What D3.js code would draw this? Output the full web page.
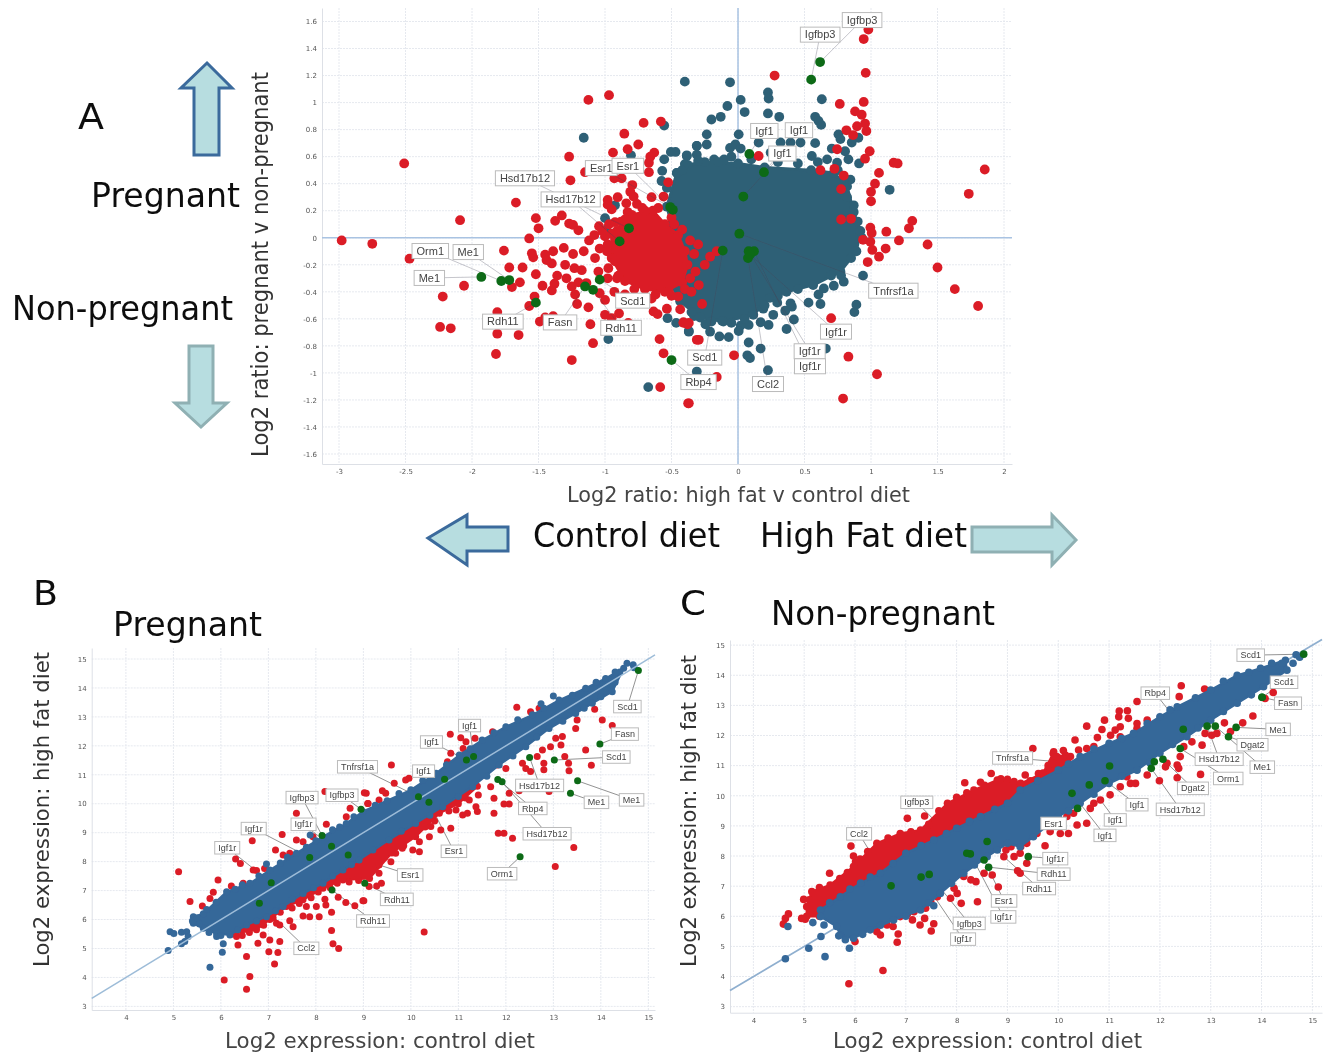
<!DOCTYPE html>
<html>
<head>
<meta charset="utf-8">
<script src="https://cdnjs.cloudflare.com/ajax/libs/d3/7.8.5/d3.min.js"></script>
<style>
html,body{margin:0;padding:0;background:#fff;}
svg{display:block;}
text{font-family:"DejaVu Sans",sans-serif;}
</style>
</head>
<body>
<svg id="fig" width="1323" height="1054"></svg>
<script>
// values. The middle of each cloud is too dense to read
// single points, so it is kept as an outline (xxxCore) and only the points that
// can be told apart are listed.

// ---- panel A: log2 ratio high fat v control (x), pregnant v non-pregnant (y)
const aTicksX = [-3,-2.5,-2,-1.5,-1,-0.5,0,0.5,1,1.5,2];
const aTicksY = [-1.6,-1.4,-1.2,-1,-0.8,-0.6,-0.4,-0.2,0,0.2,0.4,0.6,0.8,1,1.2,1.4,1.6];
const aTealCore = [[-.46,.48],[-.38,.54],[-.25,.56],[0,.55],[.2,.52],[.55,.5],[.72,.48],[.82,.38],[.87,.19],[.92,.05],[.89,-.1],[.77,-.25],[.565,-.35],[.365,-.4],[.24,-.445],[.115,-.57],[-.11,-.62],[-.285,-.59],[-.435,-.47],[-.5,-.35],[-.45,-.1],[-.5,.1],[-.535,.23]];
const aRedCore = [[-.95,.03],[-.8,.17],[-.64,.2],[-.55,.1],[-.45,.02],[-.4,-.1],[-.38,-.2],[-.42,-.33],[-.55,-.4],[-.7,-.38],[-.85,-.32],[-.95,-.15]];
const aTeal = [[-.4,1.155],[-.06,1.15],[.225,1.075],[.23,1.03],[.63,1.025],[.02,1.02],[-.08,.975],[.05,.93],[-.13,.895],[-.2,.875],[.225,.92],[.31,.895],[.58,.895],[.605,.865],[.625,.835],[-.235,.765],[.005,.765],[.755,.765],[.77,.73],[.905,.74],[.855,.705],[-.31,.68],[-.235,.69],[-.06,.665],[-.02,.69],[.02,.66],[.58,.7],[.555,.605],[.705,.66],[.805,.64],[.83,.58],[.91,.55],[1.14,.355],[.805,.31],[.87,.24],[.845,.43],[-.385,.605],[-.31,.615],[-.18,.58],[-.105,.58],[.245,.63],[.155,.705],[.32,.705],[.395,.705],[.47,.705],[.67,.58],[.745,.555],[-1.16,.74],[-.555,.83],[-.805,.61],[-.505,.635],[-.47,.635],[-.385,.61],[-.31,.68],[-.555,.58],[-.57,.495],[-.575,.42],[-.535,.37],[-.46,.48],[-.925,.24],[-1,.145],[-.99,.06],[-.4,.545],
  [.94,-.28],[.795,-.325],[.775,-.28],[.72,-.355],[.645,-.375],[.605,-.42],[.53,-.48],[.62,-.49],[.395,-.485],[.405,-.51],[.355,-.54],[.295,-.48],[.42,-.605],[.365,-.675],[.89,-.495],[.875,-.55],[.19,-.525],[.265,-.57],[.23,-.645],[.17,-.625],[.08,-.645],[.02,-.65],[.005,-.69],[.08,-.775],[.17,-.82],[.07,-.87],[.09,-.89],[.225,-.98],[.66,-.82],[-.07,-.735],[-.14,-.73],[-.21,-.695],[-.245,-.64],[-.33,-.58],[-.12,-.615],[-.31,-.99],[-.37,-.695],[-.53,-.595],[-.465,-.63],[-.37,-.69],[-.675,-1.105],[-.975,-.75],
  [-.42,.5],[-.3,.57],[-.15,.56],[-.05,.6],[.1,.58],[.3,.56],[.45,.55],[.6,.56],[.75,.5],[.8,.44],[.9,.12],[.93,0],[.85,-.15],[.7,-.28],[.45,-.38],[.3,-.43],[.2,-.5],[.05,-.6],[-.05,-.63],[-.2,-.62],[-.35,-.55],[.82,.3]];
const aRed = [[-2.98,-.02],[-2.75,-.045],[-2.51,.55],[-2.09,.13],[-1.67,.26],[-1.52,.145],[-1.5,.07],[-1.57,-.005],[-1.125,1.02],[-.97,1.055],[-.71,.85],[-.58,.86],[-.855,.77],[-.75,.69],[-.83,.655],[-.94,.63],[-1.27,.6],[-.63,.63],[-.66,.6],[-.67,.555],[-.67,.485],[-1.26,.425],[-1.15,.485],[-.93,.44],[-.875,.44],[-.795,.39],[-.81,.34],[-.785,.305],[-.76,.25],[-.65,.3],[-.56,.305],[-.905,.3],[-.98,.28],[-.98,.245],[-.84,.255],[-.83,.19],[-.95,.21],[-1.325,.165],[-1.375,.125],[-1.27,.105],[-1.24,.095],[-1.2,.055],[-1.045,.085],[-.925,.115],[-.91,.05],[-.85,.135],[-.79,.15],[-.525,.41],
  [-2.47,-.155],[-2.06,-.355],[-2.22,-.435],[-2.24,-.66],[-2.16,-.67],[-1.81,-.55],[-1.81,-.71],[-1.65,-.72],[-1.82,-.86],[-1.25,-.905],[-1.09,-.78],[-1.11,-.64],[-1.125,-.515],[-1.21,-.49],[-1.49,-.62],[-1.45,-.59],[-1.39,-.58],[-1.57,-.505],[-1.53,-.435],[-1.64,-.33],[-1.7,-.365],[-1.72,-.22],[-1.62,-.22],[-1.76,-.095],[-1.55,-.115],[-1.54,-.145],[-1.52,-.27],[-1.47,-.355],[-1.4,-.39],[-1.38,-.34],[-1.36,-.28],[-1.45,-.125],[-1.44,-.165],[-1.39,-.1],[-1.4,-.19],[-1.31,-.075],[-1.24,-.12],[-1.16,-.1],[-1.3,-.2],[-1.23,-.225],[-1.175,-.24],[-1.29,-.3],[-1.2,-.33],[-1.25,-.36],[-1.225,-.42],[-1.14,-.335],[-1.04,-.41],[-1,-.46],[-1.05,-.25],[-1.075,-.15],[-1.04,-.08],[-.975,-.225],[-.925,-.175],[-.91,-.3],[-1,-.57],[-.95,-.595],[-.895,-.56],[-.825,-.63],[-.59,-.75],[-.56,-.855],[-.585,-1.105],[-.375,-1.225],[-.31,-.755],[-.635,-.545],[-.605,-.565],[-.535,-.525],[-.45,-.435],[-.435,-.53],[-.37,-.63],[-.41,-.625],
  [-1.12,-.02],[-1.08,.02],[-1,.01],[-.985,-.1],[-.98,-.3],[-.93,-.4],[-.85,-.42],[-.75,-.45],[-.65,-.45],[-.5,-.43],[-.36,-.3],[-.33,-.12],[-.36,-.02],[-.42,.06],[-.48,.1],[-.7,.2],
  [-.98,-.05],[-1.02,.05],[-.97,.1],[-.88,.12],[-.72,.22],[-.6,.22],[-.5,.15],[-.9,-.28],[-.78,-.38],[-.62,-.42],[-.52,-.4],[-.4,-.38],[-.32,-.25],[-.3,-.05],[-.25,-.2],[-.35,-.4],
  [-.295,-.35],[-.27,-.49],[-.38,-.64],[-.41,-.63],[-.295,-.755],[-.03,-.87],[-.16,-1.03],[-.37,-1.225],[.7,-.595],[.83,-.88],[1.045,-1.01],[.79,-1.19],[1.805,-.505],[1.63,-.38],[1.5,-.22],[1.425,-.05],[1.21,-.02],[1.11,-.08],[1.06,-.14],[.975,-.18],[1.01,-.09],[.995,-.03],[.94,-.015],[-.21,-.14],[-.16,-.1],
  [.98,1.54],[.945,1.47],[.96,1.22],[.275,1.2],[.945,1.005],[.765,.99],[.88,.935],[.93,.91],[.955,.845],[.895,.825],[.965,.79],[.815,.795],[.865,.76],[.99,.64],[.955,.585],[1.17,.555],[1.2,.55],[1.06,.48],[1.03,.4],[1,.34],[1,.27],[1.855,.505],[1.735,.325],[1.31,.125],[1.285,.07],[1.115,.045],[.995,.075],[1.005,.035],[.775,.36],[.775,.135],[.85,.14],[.155,.605],[.795,.46],[.725,.51],[.62,.5],[.745,.655]];
const aGreen = [["Igfbp3",.617,1.3],["Igfbp3",.55,1.17],["Igf1",.085,.62],["Igf1",.195,.485],["Igf1",.04,.305],["Esr1",-.51,.227],["Esr1",-.49,.207],["Hsd17b12",-.82,.07],["Hsd17b12",-.89,-.027],["Orm1",-1.78,-.32],["Me1",-1.72,-.313],["Me1",-1.93,-.29],["Rdh11",-1.52,-.48],["Fasn",-1.15,-.36],["Rdh11",-1.09,-.385],["Scd1",-1.04,-.31],["Rbp4",-.5,-.905],["Scd1",-.115,-.095],["Ccl2",.075,-.15],["Igf1r",.08,-.1],["Igf1r",.12,-.1],["Igf1r",.09,-.125],["Tnfrsf1a",.01,.03]];

// ---- panel B: log2 expression, pregnant
const bTicksX = [4,5,6,7,8,9,10,11,12,13,14,15];
const bTicksY = [3,4,5,6,7,8,9,10,11,12,13,14,15];
const bBlueCore = [[5.42,6.1],[5.63,6.2],[6.12,6.96],[6.61,7.25],[7.03,7.71],[7.59,8.29],[8.15,8.86],[8.64,9.32],[8.99,9.73],[10,10.48],[10.53,11.05],[11.02,11.68],[11.5,12.2],[12,12.66],[12.56,13.07],[13.12,13.58],[13.68,13.99],[14.1,14.33],[14.48,14.68],[14.24,13.87],[13.82,13.47],[13.47,13.12],[12.91,12.6],[12.42,11.97],[11.86,11.34],[11.3,10.59],[10.67,9.9],[10.1,9.32],[9.54,8.75],[8.91,8.06],[8.57,7.71],[8.15,7.25],[7.73,6.9],[7.31,6.45],[6.96,6.1],[6.54,5.81],[6.19,5.47],[5.91,5.52],[5.63,5.7],[5.42,5.87]];
const bRedCore = [[6.25,5.5],[6.75,5.65],[7.03,6],[7.38,6.45],[7.73,6.68],[8.15,7.08],[8.57,7.37],[9.13,7.42],[9.6,8.3],[10.1,8.86],[10.6,9.67],[11,10],[11.4,10.6],[10.5,10.5],[9,8.8],[7.5,7.2],[6.3,6]];
const bBlue = [[5.77,4.35],[4.89,4.93],[4.93,5.58],[5.01,5.52],[5.17,5.56],[5.28,5.58],[5.17,5.16],[5.24,5.24],[5.31,5.41],[6.05,5.16],[6.03,4.87],[5.91,5.41],[6.96,7.92],[7.88,8.92],[5.4,5.95],[5.5,6.05],[14.55,14.85],[14.68,14.8],[14.7,14.7],[14.4,14.55],[14.3,14.2],[13,13.72],[12.74,13.45],
  [6.3,7.05],[6.45,7.2],[6.8,7.5],[7.25,7.95],[7.4,8.15],[7.8,8.5],[8,8.72],[8.35,9.1],[8.5,9.2],[8.8,9.55],[9.25,9.95],[9.5,10.1],[9.75,10.35],[10.25,10.8],[10.75,11.35],[11.25,11.9],[11.75,12.45],[12.25,12.9],[12.8,13.3],[13.4,13.75],[13.9,14.2],[14.3,14.55],
  [14,13.7],[13.65,13.3],[13.2,12.85],[12.65,12.3],[12.15,11.65],[11.6,10.95],[11,10.25],[10.4,9.6],[9.8,9.05],[9.2,8.4],[8.75,7.9],[8.35,7.5],[7.95,7.1],[7.5,6.7],[7.15,6.3],[6.75,5.95],[6.35,5.65],[6,5.45],[5.75,5.55],[5.55,5.85],[5.7,6.35],[5.9,6.6]];
const bRed = [[5.11,7.65],[5.35,6.62],[5.61,6.47],[5.94,7.37],[5.84,6.94],[5.77,6.73],[6.66,8.72],[6.31,8.09],[6.41,7.94],[6.22,7.16],[6.47,7.25],[6.68,7.71],[6.75,7.69],[6.92,7.76],[7.15,8.4],[7.29,8.94],[7.59,9.67],[7.59,8.75],[7.31,8.23],[7.45,8.29],[7.52,7.83],[7.73,8.69],[7.94,8.86],[8.22,9.29],[8.19,10.42],[8.4,9.04],[8.72,9.84],[9.06,10.36],[8.64,9.55],[8.75,9.07],[8.96,9.3],[9.1,10.01],
  [6.54,4.72],[6.54,3.59],[6.07,3.91],[6.61,4.03],[7.13,4.46],[7.01,4.89],[7.2,4.86],[7.24,5.24],[7.03,5.29],[6.78,5.18],[6.89,5.47],[6.36,5.12],[6.33,5.41],[8.33,5.62],[8.36,5.16],[8.48,5],[8.33,6.25],[8.07,6.1],[7.87,6.1],[7.73,6.12],[7.8,6.45],[8.01,6.45],[8.21,6.5],[8.63,6.59],[8.82,6.48],[9.01,6.65],[8.47,6.77],[8.19,6.7],[7.45,5.96],[7.24,5.81],[7.52,5.75],[7.17,5.87],
  [6.45,5.45],[6.6,5.55],[6.9,5.8],[7.1,6.05],[7.25,6.25],[7.5,6.4],[7.65,6.55],[7.9,6.75],[8.05,6.95],[8.3,7.1],[8.45,7.25],[8.7,7.3],[8.9,7.35],[9.25,7.9],[9.45,8.15],[9.85,8.55],[10.3,9.2],[10.5,9.4],[10.8,9.75],[11.15,10.2],
  [9.59,11.34],[9.02,10.38],[9.65,10.71],[9.89,10.82],[9.96,10.88],[9.4,10.45],[9.47,10.36],[9.33,10.13],[9.09,10.01],[9.3,9.69],[9.75,10.15],[9.16,9.5],[10.83,12.4],[11.05,12.28],[11.35,12.26],[11.16,12.14],[11.1,11.91],[10.84,11.74],[10.77,11.45],[11.72,12.49],[12.23,13.33],[12.52,13.18],[12.7,13.3],
  [10.28,5.57],[13.04,7.83],[13.43,8.49],[12.14,8.81],[11.96,8.98],[11.84,8.98],[11.75,9.67],[11.96,9.99],[12.07,9.99],[12.07,10.36],[11.75,10.19],[11.68,10.59],[12,11.22],[11.82,11.34],[12.35,11.4],[12.42,11.22],[12.52,11.11],[12.66,11.63],[12.8,11.4],[12.8,11.17],[12.77,11.86],[12.94,11.97],[13.05,12.26],[13.19,12.32],[13.16,12.03],[13.24,11.63],[13.32,11.4],[13.33,11.14],[13.8,11.33],[13.68,11.86],[13.5,12.89],[13.47,12.6],[14.03,12.89],[14.24,12.7],[13.87,13.26],[12.28,10.45],[12.91,10.42],[11.42,10.3],[11.23,10.13],[11.37,9.9],[11.4,9.73],[11.19,9.67],[11.09,9.61],[10.95,9.78],[10.84,9.15],[10.63,9.09],[10.42,9.21],[10.39,8.86],[10.18,8.69],[10.04,8.4],[10.18,8.34],[9.82,8.46],[9.68,8.29],[9.58,8],[9.33,7.88],[9.33,7.6],[9.38,7.25],[9.28,7.16],[9.12,7.14],[8.99,6.65]];
const bGreen = [["Igfbp3",8.13,8.9],["Igfbp3",8.95,9.81],["Igf1r",7.87,8.14],["Igf1r",8.33,8.53],["Igf1r",7.06,7.27],["Ccl2",6.81,6.56],["Rdh11",8.34,7.02],["Rdh11",9.03,7.25],["Esr1",8.68,8.23],["Esr1",10.38,10.05],["Igf1",11.17,11.51],["Igf1",11.32,11.63],["Igf1",10.71,10.85],["Tnfrsf1a",10.16,10.24],["Hsd17b12",12.5,11.6],["Rbp4",11.83,10.84],["Hsd17b12",11.92,10.76],["Orm1",12.3,8.17],["Me1",13.36,10.36],["Me1",13.51,10.79],["Scd1",13.02,11.51],["Fasn",13.98,12.06],["Scd1",14.79,14.6]];

// ---- panel C: log2 expression, non-pregnant
const cTicksX = [4,5,6,7,8,9,10,11,12,13,14,15];
const cTicksY = [3,4,5,6,7,8,9,10,11,12,13,14,15];
const cBlueCore = [[5.32,6.21],[5.71,6.65],[6.11,7.1],[6.5,7.43],[7,8.09],[7.55,8.53],[8,8.92],[8.47,9.31],[9,9.75],[9.25,10.19],[10,10.85],[10.43,11.3],[11,11.74],[11.48,12.07],[12,12.62],[12.34,12.95],[13,13.51],[13.52,14],[13.98,14.23],[14.47,14.5],[14.5,14.17],[14.04,13.62],[13.52,13.07],[13,12.51],[12.53,11.96],[12,11.41],[11.55,10.85],[11,10.41],[10.43,9.75],[10,9.31],[9.51,8.64],[9.25,8.31],[9,8.42],[8.6,7.98],[8.14,7.43],[7.68,6.76],[7.29,6.21],[6.76,5.88],[6.3,5.55],[5.97,5.27],[5.71,5.38],[5.64,5.66],[5.32,5.99]];
const cRedCore = [[5.05,6.32],[5.15,6.82],[5.51,7.04],[5.97,7.65],[6.43,8.42],[6.89,8.75],[7.29,8.86],[7.82,9.75],[8.34,10.19],[8.8,10.52],[9.13,10.47],[9.26,10.41],[9.7,10.75],[9.9,11.4],[10.2,11.25],[10.3,10.9],[9,9.5],[7,8],[5.5,6.2],[5.3,6],[5.05,6]];
const cBlue = [[4.63,4.59],[5.09,4.94],[5.41,4.66],[5.33,5.33],[4.68,5.66],[5.17,5.79],[5.39,5.71],[5.89,4.94],[7.55,6.35],[5.68,5.35],[5.81,5.22],[14.68,14.68],[14.75,14.6],[14.62,14.4],[14.4,14.4],
  [5.5,6.45],[5.9,6.9],[6.3,7.3],[6.75,7.75],[7.3,8.35],[7.8,8.75],[8.25,9.15],[8.75,9.55],[9.6,10.5],[10.2,11.05],[10.7,11.55],[11.25,11.9],[11.75,12.4],[12.2,12.85],[12.7,13.25],[13.25,13.8],[13.75,14.1],[14.2,14.4],
  [14.3,13.95],[13.8,13.35],[13.25,12.8],[12.75,12.25],[12.25,11.7],[11.8,11.1],[11.25,10.65],[10.7,10.05],[10.2,9.5],[9.75,9],[8.8,8.2],[8.35,7.7],[7.9,7.1],[7.45,6.45],[7,6],[6.5,5.7],[6.15,5.4]];
const cRed = [[5.92,8.33],[5.97,8],[6.01,7.81],[5.5,7.43],[7.03,9.25],[7.37,9.33],[8.16,10.43],[8.23,10.02],[8.47,10.45],[8.68,10.74],[8.87,10.56],[7.7,9.44],[7.49,9.03],[4.99,6.56],[4.69,6.08],[4.63,5.93],[4.59,5.74],[4.95,5.93],[5.02,5.9],
  [5.1,6.55],[5.3,6.95],[5.7,7.25],[5.85,7.45],[6.1,7.9],[6.25,8.15],[6.65,8.6],[7.1,8.8],[7.45,9.05],[7.65,9.5],[8,9.95],[8.2,10.1],[8.55,10.35],[9,10.55],[9.45,10.5],[9.8,11],[10.1,11.5],
  [5.88,3.76],[6.55,4.2],[6,5.16],[6.83,5.14],[6.85,5.41],[6.5,5.38],[6.43,5.49],[6.75,5.66],[6.5,5.82],[7.28,5.71],[7.5,5.51],[7.55,5.75],[7.37,5.93],[7.13,5.88],[7.03,6.08],[8.09,6.43],[8.41,6.48],[8.82,6.97],[7.88,6.6],[8.01,6.76],[7.68,6.87],[7.62,6.65],[7.49,6.49],[7.39,6.27],[8.14,7.32],[8.38,7.15],[8.7,7.37],[8.97,8.2],[9.2,7.51],[9.13,7.98],[6.63,5.71],[6.89,5.99],[7.16,6.15],[7.95,6.93],[8.28,7.21],[8.54,7.43],[8.93,7.98],[9.07,8.31],[9.26,8.31],
  [12.42,13.65],[12.38,13.29],[12.88,13.54],[11.55,13.13],[11.2,12.81],[11.36,12.82],[11.19,12.62],[11.38,12.57],[10.91,12.51],[10.86,12.2],[10.56,12.31],[10.77,11.93],[10.33,11.85],[11.22,12.29],[11.12,12.18],[11.22,11.96],[11.03,12.01],[11.55,12.4],[11.55,12.24],[11.75,12.51],[10.7,11.63],[10.56,11.57],[10.4,11.52],[10.81,11.27],[9.5,11.57],[9.91,11.46],[9.97,11.3],[10.14,11.35],[10.24,11.3],[10.04,11.13],[9.88,11.08],[9.84,10.8],[9.61,10.74],[9.35,10.69],[9.38,10.3],
  [14.23,13.43],[14.07,13.23],[13.83,12.65],[13.63,12.42],[13.39,12.13],[13.27,12.42],[13.12,12.07],[12.89,12.07],[13.02,12.01],[12.63,11.79],[12.83,11.68],[12.47,11.63],[12.4,11.3],[12.34,11.02],[12.37,10.91],[12.8,10.71],[12.34,10.6],[11.99,10.5],[12.11,10.96],[12.14,11.08],[11.75,10.69],[11.52,10.41],[11.35,10.63],[11.42,10.41],[11.22,10.3],[11.02,10.03],[10.83,9.86],[10.7,9.75],[10.63,9.58],[10.56,9.09],[10.37,9.03],[10.2,8.75],[10.04,8.75],[9.74,8.34],[9.58,8.75],[9.84,8.81],[9.38,8.42],[9.25,8.09],[9.38,7.76],[9.25,7.43],[10.3,9.42],[10.17,9.31]];
const cGreen = [["Scd1",14.83,14.7],["Scd1",14.01,13.27],["Fasn",14.01,13.27],["Rbp4",12.46,12.21],["Me1",13.5,12.27],["Dgat2",13.35,11.96],["Me1",13.09,12.31],["Hsd17b12",12.93,12.31],["Orm1",12.4,11.57],["Dgat2",12.06,11.21],["Hsd17b12",11.83,10.91],["Igf1",10.92,10.5],["Igf1",10.61,10.36],["Igf1",10.27,10.08],["Esr1",10.38,9.58],["Igf1r",9.41,7.98],["Rdh11",8.63,7.63],["Rdh11",8.6,8.48],["Esr1",8.54,7.87],["Igf1r",8.27,8.07],["Igfbp3",7.46,7.39],["Igf1r",7.3,7.3],["Igfbp3",8.2,8.09],["Ccl2",6.71,7.01],["Tnfrsf1a",11.01,10.99],["",11.89,11.13]];

// label box offsets from their point (layout only, pixels)
const aLabelShift = [[42,-42],[9,-45],[15,-23],[35,-42],[39,-43],[-69,-39],[-45,-44],[-104,-50],[-49,-42],[-71,-30],[-41,-28],[-52,1],[-33,19],[-25,36],[28,38],[33,21],[27,22],[-18,107],[20,126],[61,100],[56,115],[86,77],[154,57]];
const bLabelShift = [[-20,-38],[-19,-14],[-56,-29],[-28,-22],[-44,-35],[47,45],[41,31],[32,16],[62,20],[25,49],[-35,-18],[-4,-31],[-21,-8],[-61,-30],[10,28],[35,29],[45,52],[-18,17],[26,9],[54,19],[62,-3],[25,-10],[-11,36]];
const cLabelShift = [[-53,1],[22,-15],[26,6],[-28,-36],[42,2],[24,8],[47,41],[12,33],[48,30],[30,29],[29,41],[32,24],[26,35],[33,42],[-24,15],[27,2],[65,7],[52,47],[20,41],[33,63],[40,49],[42,62],[-50,-51],[-32,-52],[-97,-8],[0,0]];

const svg = d3.select("#fig");
const defs = svg.append("defs");
defs.append("filter").attr("id","soft").append("feGaussianBlur").attr("stdDeviation",0.6);
const RED = "#db1c26", GREEN = "#0a6a18";

// one scatter panel
function drawPanel(o){
    const x = d3.scaleLinear().domain(o.domX).range([o.left,o.right]);
    const y = d3.scaleLinear().domain(o.domY).range([o.bottom,o.top]);
    const g = svg.append("g").attr("filter","url(#soft)");

    // grid
    g.selectAll(null).data(o.ticksX).join("line").attr("x1",d=>x(d)).attr("x2",d=>x(d))
        .attr("y1",o.top).attr("y2",o.bottom).attr("stroke","#e6e9ef").attr("stroke-width",1).attr("stroke-dasharray","2 1");
    g.selectAll(null).data(o.ticksY).join("line").attr("y1",d=>y(d)).attr("y2",d=>y(d))
        .attr("x1",o.left).attr("x2",o.right).attr("stroke","#e6e9ef").attr("stroke-width",1).attr("stroke-dasharray","2 1");

    // axes (plain hyphen for negatives, as in the picture)
    const ax = g.append("g").attr("transform","translate(0,"+o.bottom+")")
        .call(d3.axisBottom(x).tickValues(o.ticksX).tickSize(0).tickPadding(5).tickFormat(d=>String(d)));
    const ay = g.append("g").attr("transform","translate("+o.left+",0)")
        .call(d3.axisLeft(y).tickValues(o.ticksY).tickSize(0).tickPadding(5).tickFormat(d=>String(d)));
    [ax,ay].forEach(a=>{
        a.select(".domain").attr("stroke","#dde0e6");
        a.selectAll("text").attr("fill","#555").attr("font-size",7);
    });

    const line = d3.line().x(d=>x(d[0])).y(d=>y(d[1]));
    const drawRefs = ()=>{
        (o.refLines||[]).forEach(r=>{
            g.append("path").attr("d",line(r)).attr("fill","none")
                .attr("stroke",o.refColor).attr("stroke-width",o.refWidth);
        });
    };
    const labelled = o.green.map((d,i)=>({gene:d[0],px:x(d[1]),py:y(d[2]),dx:o.shift[i][0],dy:o.shift[i][1]}))
        .filter(d=>d.gene!=="");
    const drawLeaders = (color,op)=>{
        g.selectAll(null).data(labelled).join("line")
            .attr("x1",d=>d.px).attr("y1",d=>d.py).attr("x2",d=>d.px+d.dx).attr("y2",d=>d.py+d.dy)
            .attr("stroke",color).attr("stroke-width",0.8).attr("opacity",op);
    };
    const core = (pts,color)=>{
        g.append("path").attr("d",line(pts)+"Z").attr("fill",color).attr("stroke",color)
            .attr("stroke-width",o.r*0.6).attr("stroke-linejoin","round");
    };
    const dots = (pts,color)=>{
        g.selectAll(null).data(pts).join("circle").attr("cx",d=>x(d[0])).attr("cy",d=>y(d[1]))
            .attr("r",o.r).attr("fill",color);
    };

    if(o.refsBelow) drawRefs();
    if(!o.leadersOnTop) drawLeaders("#777",1);

    // cloud: panel-specific stacking
    o.stack.forEach(s=>{
        if(s[0]==="core") core(s[1],s[2]);
        else dots(s[1],s[2]);
    });
    if(!o.refsBelow) drawRefs();
    if(o.leadersOnTop) drawLeaders("#445",0.38);
    dots(o.green.map(d=>[d[1],d[2]]),GREEN);

    // gene labels
    labelled.forEach(d=>{
        const lg = g.append("g").attr("transform","translate("+(d.px+d.dx)+","+(d.py+d.dy)+")");
        const box = lg.append("rect").attr("fill","#fff").attr("stroke","#bbb").attr("stroke-width",1);
        const t = lg.append("text").text(d.gene).attr("text-anchor","middle").attr("dy","0.35em")
            .attr("font-size",o.labelSize).attr("fill","#444")
            .style("font-family","'Liberation Sans',sans-serif");
        const w = t.node().getComputedTextLength()+o.labelPad;
        box.attr("x",-w/2).attr("y",-o.labelH/2).attr("width",w).attr("height",o.labelH);
    });
}

drawPanel({
    domX:[-3.128,2.06],domY:[-1.674,1.70],left:322,right:1012,top:8,bottom:464,r:4.9,
    ticksX:aTicksX,ticksY:aTicksY,
    refLines:[[[0,-1.674],[0,1.70]],[[-3.128,0],[2.06,0]]],refColor:"#a9c3e2",refWidth:1.5,refsBelow:true,
    leadersOnTop:true,green:aGreen,shift:aLabelShift,labelSize:11,labelPad:9,labelH:15,
    stack:[["core",aTealCore,"#2f6076"],["dots",aTealCore,"#2f6076"],["dots",aTeal,"#2f6076"],["core",aRedCore,RED],["dots",aRedCore,RED],["dots",aRed,RED]]
});
drawPanel({
    domX:[3.28,15.14],domY:[2.875,15.38],left:91.7,right:655,top:648,bottom:1010,r:3.5,
    ticksX:bTicksX,ticksY:bTicksY,
    refLines:[[[3.28,3.28],[15.14,15.14]]],refColor:"#9dbcd8",refWidth:1.5,refsBelow:false,
    leadersOnTop:false,green:bGreen,shift:bLabelShift,labelSize:9,labelPad:7,labelH:12.5,
    stack:[["core",bRedCore,RED],["dots",bRedCore,RED],["dots",bRed,RED],["core",bBlueCore,"#356799"],["dots",bBlueCore,"#356799"],["dots",bBlue,"#356799"]]
});
drawPanel({
    domX:[3.54,15.19],domY:[2.80,15.17],left:730,right:1322,top:640,bottom:1012.7,r:3.8,
    ticksX:cTicksX,ticksY:cTicksY,
    refLines:[[[3.54,3.54],[15.19,15.19]]],refColor:"#8fafcf",refWidth:1.7,refsBelow:true,
    leadersOnTop:false,green:cGreen,shift:cLabelShift,labelSize:9,labelPad:7,labelH:12.5,
    stack:[["core",cRedCore,RED],["dots",cRedCore,RED],["dots",cRed,RED],["core",cBlueCore,"#356799"],["dots",cBlueCore,"#356799"],["dots",cBlue,"#356799"]]
});

// big captions
const overlay = svg.append("g").attr("filter","url(#soft)");
function caption(txt,xp,yp,size,len,color,rot){
    const t = overlay.append("text").text(txt).attr("font-size",size).attr("fill",color||"#111")
        .attr("textLength",len).attr("lengthAdjust","spacingAndGlyphs");
    if(rot) t.attr("transform","translate("+xp+","+yp+") rotate(-90)");
    else t.attr("x",xp).attr("y",yp);
}
caption("A",78,129,36,26);
caption("Pregnant",91,207,34,149);
caption("Non-pregnant",12,320,34,221);
caption("Control diet",533,547,34,187);
caption("High Fat diet",760,547,34,207);
caption("B",33,605,34,25);
caption("C",680,615,34,26);
caption("Pregnant",113,636,34,149);
caption("Non-pregnant",771,625,34,224);
caption("Log2 ratio: pregnant v non-pregnant",268,457,23,385,"#333",true);
caption("Log2 ratio: high fat v control diet",567,502,22,343,"#444");
caption("Log2 expression: control diet",225,1048,22,310,"#444");
caption("Log2 expression: high fat diet",49,967,22,315,"#333",true);
caption("Log2 expression: control diet",833,1048,22,309,"#444");
caption("Log2 expression: high fat diet",696,967,22,312,"#333",true);

// arrows
function arrow(pts,stroke){
    overlay.append("polygon").attr("points",pts.map(p=>p.join(",")).join(" "))
        .attr("fill","#b7dde0").attr("stroke",stroke).attr("stroke-width",3).attr("stroke-linejoin","miter");
}
arrow([[207,63],[232,88],[219,88],[219,155],[194,155],[194,88],[181,88]],"#3b6a9c");
arrow([[189,346],[213,346],[213,403],[227,403],[201,427],[175,403],[189,403]],"#8fb0b3");
arrow([[428,538],[467,515],[467,527],[508,527],[508,551],[467,551],[467,565]],"#3b6a9c");
arrow([[972,527],[1052,527],[1052,515],[1076,540],[1052,565],[1052,552],[972,552]],"#8fb0b3");
</script>
</body>
</html>
